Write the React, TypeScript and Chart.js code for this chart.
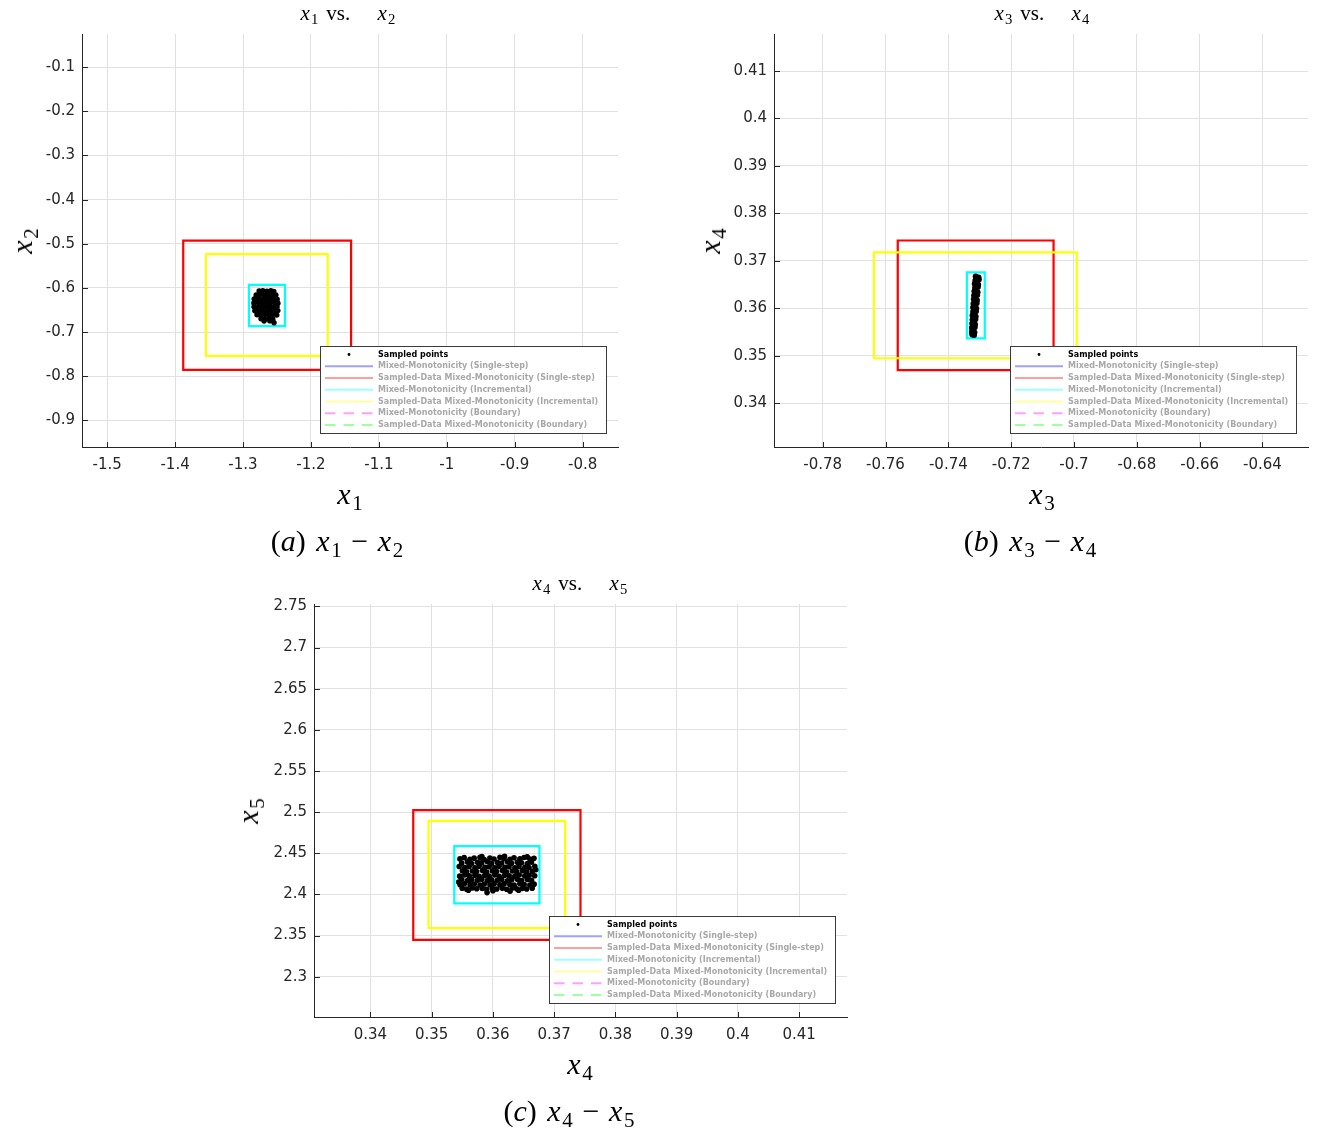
import React, { useEffect, useRef } from 'react';
import { Chart, registerables } from 'chart.js';

Chart.register(...registerables);

// ---------------- Tick labels ----------------
const A_X_TICKS = [-1.5, -1.4, -1.3, -1.2, -1.1, -1, -0.9, -0.8];
const A_Y_TICKS = [-0.9, -0.8, -0.7, -0.6, -0.5, -0.4, -0.3, -0.2, -0.1];
const B_X_TICKS = [-0.78, -0.76, -0.74, -0.72, -0.7, -0.68, -0.66, -0.64];
const B_Y_TICKS = [0.34, 0.35, 0.36, 0.37, 0.38, 0.39, 0.4, 0.41];
const C_X_TICKS = [0.34, 0.35, 0.36, 0.37, 0.38, 0.39, 0.4, 0.41];
const C_Y_TICKS = [2.3, 2.35, 2.4, 2.45, 2.5, 2.55, 2.6, 2.65, 2.7, 2.75];

// ---------------- Axis limits ----------------
const A_X_RANGE = [-1.537, -0.748];
const A_Y_RANGE = [-0.96, -0.025];
const B_X_RANGE = [-0.7955, -0.6255];
const B_Y_RANGE = [0.3308, 0.4178];
const C_X_RANGE = [0.3308, 0.4178];
const C_Y_RANGE = [2.251, 2.753];

// ---------------- Interval over-approximations (lo, hi) per state ----------------
const BOX_METHODS = [
  'Sampled-Data Mixed-Monotonicity (Single-step)',
  'Sampled-Data Mixed-Monotonicity (Incremental)',
  'Mixed-Monotonicity (Incremental)',
];
const X1_BOUNDS = [[-1.388, -1.1409], [-1.3546, -1.1753], [-1.2912, -1.2382]];
const X2_BOUNDS = [[-0.7853, -0.4928], [-0.7536, -0.5235], [-0.6864, -0.593]];
const X3_BOUNDS = [[-0.7561, -0.7065], [-0.7637, -0.6991], [-0.7341, -0.7284]];
const X4_BOUNDS = [[0.347, 0.3743], [0.3495, 0.3718], [0.3537, 0.3676]];
const X5_BOUNDS = [[2.3448, 2.5024], [2.3591, 2.4894], [2.3891, 2.4586]];

// ---------------- Sampled points ----------------
const A_SAMPLES = [
  [-1.2763, -0.6068], [-1.2708, -0.6059], [-1.2649, -0.6071], [-1.259, -0.6063], [-1.2546, -0.6077],
  [-1.2807, -0.616], [-1.2752, -0.6149], [-1.2689, -0.6163], [-1.2634, -0.6152], [-1.2571, -0.6166], [-1.2516, -0.6155],
  [-1.2836, -0.6251], [-1.2782, -0.624], [-1.2719, -0.6255], [-1.2663, -0.6243], [-1.2601, -0.625], [-1.2546, -0.6239], [-1.2497, -0.6253],
  [-1.284, -0.6341], [-1.2777, -0.633], [-1.2722, -0.6345], [-1.266, -0.6333], [-1.2604, -0.634], [-1.2541, -0.6329], [-1.2486, -0.6344],
  [-1.2838, -0.6425], [-1.2792, -0.6436], [-1.2733, -0.6422], [-1.2677, -0.6433], [-1.2615, -0.6424], [-1.256, -0.6437], [-1.2498, -0.6426],
  [-1.2826, -0.6514], [-1.2763, -0.6525], [-1.2708, -0.6513], [-1.2645, -0.6522], [-1.259, -0.6511], [-1.2527, -0.6524], [-1.2487, -0.6512],
  [-1.2794, -0.6605], [-1.2737, -0.6616], [-1.2678, -0.6603], [-1.2618, -0.6612], [-1.256, -0.6601], [-1.2502, -0.6614],
  [-1.2735, -0.6697], [-1.2678, -0.6706], [-1.262, -0.6694], [-1.2561, -0.6703],
  [-1.2605, -0.6745], [-1.2543, -0.6786], [-1.269, -0.675],
];

const B_SAMPLES = [
  [-0.7313, 0.3667], [-0.7304, 0.3665],
  [-0.7314, 0.3659], [-0.7303, 0.3661],
  [-0.7316, 0.3652], [-0.7305, 0.365],
  [-0.7315, 0.3643], [-0.7306, 0.3645],
  [-0.7317, 0.3636], [-0.7307, 0.3634],
  [-0.7318, 0.3627], [-0.7308, 0.3628],
  [-0.7319, 0.3619], [-0.7309, 0.3617],
  [-0.732, 0.361], [-0.731, 0.3611],
  [-0.7321, 0.3602], [-0.7311, 0.36],
  [-0.7321, 0.3593], [-0.7312, 0.3594],
  [-0.7323, 0.3585], [-0.7313, 0.3583],
  [-0.7323, 0.3576], [-0.7314, 0.3577],
  [-0.7324, 0.3568], [-0.7315, 0.3566],
  [-0.7325, 0.3559], [-0.7316, 0.356],
  [-0.7325, 0.3551], [-0.7317, 0.3549],
  [-0.7324, 0.3545], [-0.7318, 0.3544],
];

const C_SAMPLES = [
  [0.35462, 2.4432], [0.35531, 2.4447], [0.35625, 2.4428], [0.35694, 2.4441], [0.3579, 2.445], [0.35857, 2.4425], [0.35951, 2.4443], [0.36018, 2.443],
  [0.36115, 2.4452], [0.36181, 2.4436], [0.36279, 2.4427], [0.36345, 2.4445], [0.36441, 2.4433], [0.36509, 2.4449], [0.36604, 2.4429], [0.36671, 2.444],
  [0.3549, 2.438], [0.35585, 2.4395], [0.35653, 2.4376], [0.35748, 2.4391], [0.35816, 2.4383], [0.35911, 2.4398], [0.35979, 2.4374], [0.36074, 2.4389],
  [0.36142, 2.4381], [0.36237, 2.4396], [0.36305, 2.4378], [0.364, 2.4392], [0.36467, 2.4384], [0.36563, 2.4375], [0.3663, 2.4393],
  [0.3545, 2.434], [0.35543, 2.4327], [0.35612, 2.4338], [0.35707, 2.4325], [0.35775, 2.4342], [0.3587, 2.433], [0.35938, 2.4337], [0.36033, 2.4324],
  [0.36101, 2.4341], [0.36196, 2.4329], [0.36264, 2.4336], [0.36359, 2.4323], [0.36427, 2.4339], [0.36522, 2.4331], [0.3659, 2.4326], [0.36684, 2.4343],
  [0.35503, 2.4288], [0.35571, 2.4274], [0.35667, 2.4285], [0.35734, 2.4278], [0.3583, 2.4291], [0.35897, 2.4272], [0.35993, 2.4286], [0.3606, 2.4279],
  [0.36156, 2.429], [0.36223, 2.4273], [0.36319, 2.4284], [0.36386, 2.4277], [0.36481, 2.4289], [0.36549, 2.4271], [0.36644, 2.4283],
  [0.35458, 2.4222], [0.3554, 2.4236], [0.35614, 2.4225], [0.35705, 2.4233], [0.35777, 2.4219], [0.35868, 2.4231], [0.3594, 2.4224], [0.36031, 2.4237],
  [0.36103, 2.4221], [0.36194, 2.4234], [0.36266, 2.4226], [0.36357, 2.422], [0.36429, 2.4235], [0.3652, 2.4223], [0.36592, 2.4232], [0.36682, 2.4227],
  [0.35491, 2.4182], [0.35584, 2.4169], [0.35654, 2.418], [0.35747, 2.4171], [0.35817, 2.4185], [0.3591, 2.4168], [0.3598, 2.4179], [0.36073, 2.4172],
  [0.36143, 2.4183], [0.36236, 2.4166], [0.36306, 2.4178], [0.36399, 2.4184], [0.36468, 2.417], [0.36562, 2.4181], [0.36631, 2.4173],
  [0.35465, 2.4117], [0.35534, 2.413], [0.35627, 2.4119], [0.35696, 2.4127], [0.35789, 2.4114], [0.35859, 2.4126], [0.35952, 2.4118], [0.36021, 2.4131],
  [0.36114, 2.4116], [0.36183, 2.4128], [0.36277, 2.412], [0.36347, 2.4113], [0.3644, 2.4129], [0.3651, 2.4121], [0.36603, 2.4115], [0.36673, 2.4125],
  [0.35499, 2.4075], [0.35573, 2.4064], [0.35661, 2.4078], [0.35736, 2.4068], [0.35826, 2.4073], [0.35899, 2.4062], [0.3599, 2.4077], [0.36062, 2.4066],
  [0.36153, 2.4074], [0.36225, 2.4063], [0.36316, 2.4079], [0.36388, 2.4069], [0.36478, 2.4072], [0.36551, 2.4065], [0.36641, 2.4076],
  [0.3582, 2.446], [0.3619, 2.4462], [0.3656, 2.4456], [0.356, 2.405], [0.36, 2.4045], [0.3642, 2.4052], [0.35905, 2.4022], [0.3628, 2.404],
  [0.35442, 2.415], [0.367, 2.43],
];

const LEGEND_LABELS = [
  'Sampled points',
  'Mixed-Monotonicity (Single-step)',
  'Sampled-Data Mixed-Monotonicity (Single-step)',
  'Mixed-Monotonicity (Incremental)',
  'Sampled-Data Mixed-Monotonicity (Incremental)',
  'Mixed-Monotonicity (Boundary)',
  'Sampled-Data Mixed-Monotonicity (Boundary)',
];

// ---------------- Styles ----------------
const BOX_COLORS = ['#ff0000', '#ffff00', '#00ffff'];
const LEGEND_STYLES = [
  { kind: 'dot', color: '#000000', text: '#000000', dash: false },
  { kind: 'line', color: '#a0a0ff', text: '#a8a8a8', dash: false },
  { kind: 'line', color: '#ffa0a0', text: '#a8a8a8', dash: false },
  { kind: 'line', color: '#a0ffff', text: '#a8a8a8', dash: false },
  { kind: 'line', color: '#ffffa0', text: '#a8a8a8', dash: false },
  { kind: 'line', color: '#ffa0ff', text: '#a8a8a8', dash: true },
  { kind: 'line', color: '#a0ffa0', text: '#a8a8a8', dash: true },
];

const AXIS_COLOR = '#262626';
const GRID_COLOR = '#e1e1e1';
const TICK_FONT = { family: '"DejaVu Sans", sans-serif', size: 15 };

const fmt = (v: number) => String(Number(Number(v).toFixed(4)));

const rect = (xb: number[], yb: number[]) => [
  { x: xb[0], y: yb[0] },
  { x: xb[1], y: yb[0] },
  { x: xb[1], y: yb[1] },
  { x: xb[0], y: yb[1] },
  { x: xb[0], y: yb[0] },
];

const innerTicksPlugin = {
  id: 'innerTicks',
  afterDraw(chart: any) {
    const { ctx, chartArea, scales } = chart;
    ctx.save();
    ctx.strokeStyle = AXIS_COLOR;
    ctx.lineWidth = 1;
    ctx.beginPath();
    scales.x.ticks.forEach((t: any) => {
      const px = Math.round(scales.x.getPixelForValue(t.value)) + 0.5;
      ctx.moveTo(px, chartArea.bottom);
      ctx.lineTo(px, chartArea.bottom - 5);
    });
    scales.y.ticks.forEach((t: any) => {
      const py = Math.round(scales.y.getPixelForValue(t.value)) + 0.5;
      ctx.moveTo(chartArea.left, py);
      ctx.lineTo(chartArea.left + 6, py);
    });
    ctx.stroke();
    ctx.restore();
  },
};

const boxLegendPlugin = {
  id: 'boxLegend',
  afterDraw(chart: any) {
    const { ctx, chartArea } = chart;
    const w = 286;
    const h = 87;
    const x0 = Math.round(chartArea.right - 12 - w);
    const y0 = Math.round(chartArea.bottom - 14 - h);
    ctx.save();
    ctx.fillStyle = '#ffffff';
    ctx.fillRect(x0, y0, w, h);
    ctx.strokeStyle = '#3a3a3a';
    ctx.lineWidth = 1;
    ctx.strokeRect(x0 + 0.5, y0 + 0.5, w, h);
    ctx.font = 'bold 8px "DejaVu Sans", sans-serif';
    ctx.textBaseline = 'middle';
    ctx.textAlign = 'left';
    LEGEND_LABELS.forEach((label, i) => {
      const st = LEGEND_STYLES[i];
      const cy = y0 + 8.5 + i * 11.75;
      if (st.kind === 'dot') {
        ctx.fillStyle = st.color;
        ctx.beginPath();
        ctx.arc(x0 + 29, cy, 1.4, 0, Math.PI * 2);
        ctx.fill();
      } else {
        ctx.strokeStyle = st.color;
        ctx.lineWidth = 2;
        ctx.setLineDash(st.dash ? [10.5, 8] : []);
        ctx.beginPath();
        ctx.moveTo(x0 + 5, cy);
        ctx.lineTo(x0 + 53, cy);
        ctx.stroke();
        ctx.setLineDash([]);
      }
      ctx.fillStyle = st.text;
      ctx.fillText(label, x0 + 58, cy);
    });
    ctx.restore();
  },
};

type PanelProps = {
  left: number;
  top: number;
  chartW: number;
  xRange: number[];
  yRange: number[];
  xTicks: number[];
  yTicks: number[];
  samples: number[][];
  xBounds: number[][];
  yBounds: number[][];
  radius: number;
};

const Y_AXIS_W = 82;
const PAD_R = 12;
const PAD_T = 34;
const CHART_H = 413;
const X_AXIS_H = 25;
const PAD_B = 8;

function ScatterPanel(p: PanelProps) {
  const ref = useRef<HTMLCanvasElement | null>(null);
  const width = Y_AXIS_W + p.chartW + PAD_R;
  const height = PAD_T + CHART_H + X_AXIS_H + PAD_B;

  useEffect(() => {
    const canvas = ref.current;
    if (!canvas) return;
    const boxSets = BOX_METHODS.map((name, i) => ({
      label: name,
      data: rect(p.xBounds[i], p.yBounds[i]),
      showLine: true,
      borderColor: BOX_COLORS[i],
      backgroundColor: BOX_COLORS[i],
      borderWidth: 2.2,
      pointRadius: 0,
      pointHoverRadius: 0,
      fill: false,
      tension: 0,
      borderJoinStyle: 'miter',
      borderCapStyle: 'square',
    })).reverse();
    const pointSet = {
      label: 'Sampled points',
      data: p.samples.map(([x, y]) => ({ x, y })),
      showLine: false,
      pointRadius: p.radius,
      pointBorderWidth: 0,
      pointBackgroundColor: '#000000',
      backgroundColor: '#000000',
      borderColor: '#000000',
    };
    const mkScale = (range: number[], ticks: number[], horizontal: boolean) => ({
      type: 'linear',
      min: range[0],
      max: range[1],
      afterBuildTicks: (s: any) => {
        s.ticks = ticks.map((v) => ({ value: v }));
      },
      afterFit: (s: any) => {
        if (horizontal) s.height = X_AXIS_H;
        else s.width = Y_AXIS_W;
      },
      ticks: {
        font: TICK_FONT,
        color: AXIS_COLOR,
        padding: horizontal ? 9 : 7,
        autoSkip: false,
        maxRotation: 0,
        minRotation: 0,
        callback: (v: any) => fmt(v),
      },
      grid: { color: GRID_COLOR, lineWidth: 1, drawTicks: false },
      border: { display: true, color: AXIS_COLOR, width: 1 },
    });
    const chart = new Chart(canvas, {
      type: 'scatter',
      data: { datasets: [pointSet, ...boxSets] as any },
      options: {
        animation: false,
        responsive: false,
        maintainAspectRatio: false,
        events: [],
        layout: { padding: { left: 0, right: PAD_R, top: PAD_T, bottom: PAD_B } },
        plugins: { legend: { display: false }, tooltip: { enabled: false }, title: { display: false } },
        scales: {
          x: mkScale(p.xRange, p.xTicks, true) as any,
          y: mkScale(p.yRange, p.yTicks, false) as any,
        },
      },
      plugins: [innerTicksPlugin, boxLegendPlugin],
    });
    return () => chart.destroy();
  }, []);

  return (
    <canvas
      ref={ref}
      width={width}
      height={height}
      style={{ position: 'absolute', left: p.left, top: p.top, width, height }}
    />
  );
}

const SERIF = '"Liberation Serif", "DejaVu Serif", serif';

function Sym({ n }: { n: number }) {
  return (
    <span>
      <span style={{ fontStyle: 'italic' }}>x</span>
      <span style={{ fontSize: '0.7em', position: 'relative', top: '0.28em', marginLeft: '0.08em' }}>{n}</span>
    </span>
  );
}

function Label({ cx, cy, size, rotate, children }: any) {
  return (
    <div
      style={{
        position: 'absolute',
        left: cx,
        top: cy,
        transform: `translate(-50%, -50%)${rotate ? ' rotate(-90deg)' : ''}`,
        fontSize: size,
        lineHeight: 1,
        whiteSpace: 'nowrap',
        fontFamily: SERIF,
        color: '#000',
        zIndex: 2,
      }}
    >
      {children}
    </div>
  );
}

function Title({ cx, cy, a, b }: any) {
  return (
    <Label cx={cx} cy={cy} size={21}>
      <Sym n={a} />
      <span style={{ marginLeft: '0.38em' }}>vs.</span>
      <span style={{ marginLeft: '1.3em' }}>
        <Sym n={b} />
      </span>
    </Label>
  );
}

function Caption({ cx, cy, tag, a, b }: any) {
  return (
    <Label cx={cx} cy={cy} size={30}>
      <span>(</span>
      <span style={{ fontStyle: 'italic' }}>{tag}</span>
      <span>)</span>
      <span style={{ marginLeft: '0.35em' }}>
        <Sym n={a} />
      </span>
      <span style={{ margin: '0 0.32em' }}>−</span>
      <Sym n={b} />
    </Label>
  );
}

export default function App() {
  return (
    <div
      style={{
        position: 'absolute',
        left: 0,
        top: 0,
        width: 1320,
        height: 1129,
        background: '#ffffff',
        overflow: 'hidden',
      }}
    >
      <ScatterPanel
        left={0}
        top={0}
        chartW={536}
        xRange={A_X_RANGE}
        yRange={A_Y_RANGE}
        xTicks={A_X_TICKS}
        yTicks={A_Y_TICKS}
        samples={A_SAMPLES}
        xBounds={X1_BOUNDS}
        yBounds={X2_BOUNDS}
        radius={2.7}
      />
      <ScatterPanel
        left={692}
        top={0}
        chartW={534}
        xRange={B_X_RANGE}
        yRange={B_Y_RANGE}
        xTicks={B_X_TICKS}
        yTicks={B_Y_TICKS}
        samples={B_SAMPLES}
        xBounds={X3_BOUNDS}
        yBounds={X4_BOUNDS}
        radius={3}
      />
      <ScatterPanel
        left={232}
        top={570}
        chartW={533}
        xRange={C_X_RANGE}
        yRange={C_Y_RANGE}
        xTicks={C_X_TICKS}
        yTicks={C_Y_TICKS}
        samples={C_SAMPLES}
        xBounds={X4_BOUNDS}
        yBounds={X5_BOUNDS}
        radius={2.8}
      />

      <Title cx={348} cy={13} a={1} b={2} />
      <Title cx={1042} cy={13} a={3} b={4} />
      <Title cx={580} cy={583} a={4} b={5} />

      <Label cx={350} cy={494} size={30}><Sym n={1} /></Label>
      <Label cx={1042} cy={494} size={30}><Sym n={3} /></Label>
      <Label cx={580} cy={1064} size={30}><Sym n={4} /></Label>

      <Label cx={22} cy={241} size={30} rotate><Sym n={2} /></Label>
      <Label cx={710} cy={241} size={30} rotate><Sym n={4} /></Label>
      <Label cx={248} cy={811} size={30} rotate><Sym n={5} /></Label>

      <Caption cx={337} cy={541} tag="a" a={1} b={2} />
      <Caption cx={1030} cy={541} tag="b" a={3} b={4} />
      <Caption cx={569} cy={1111} tag="c" a={4} b={5} />
    </div>
  );
}
